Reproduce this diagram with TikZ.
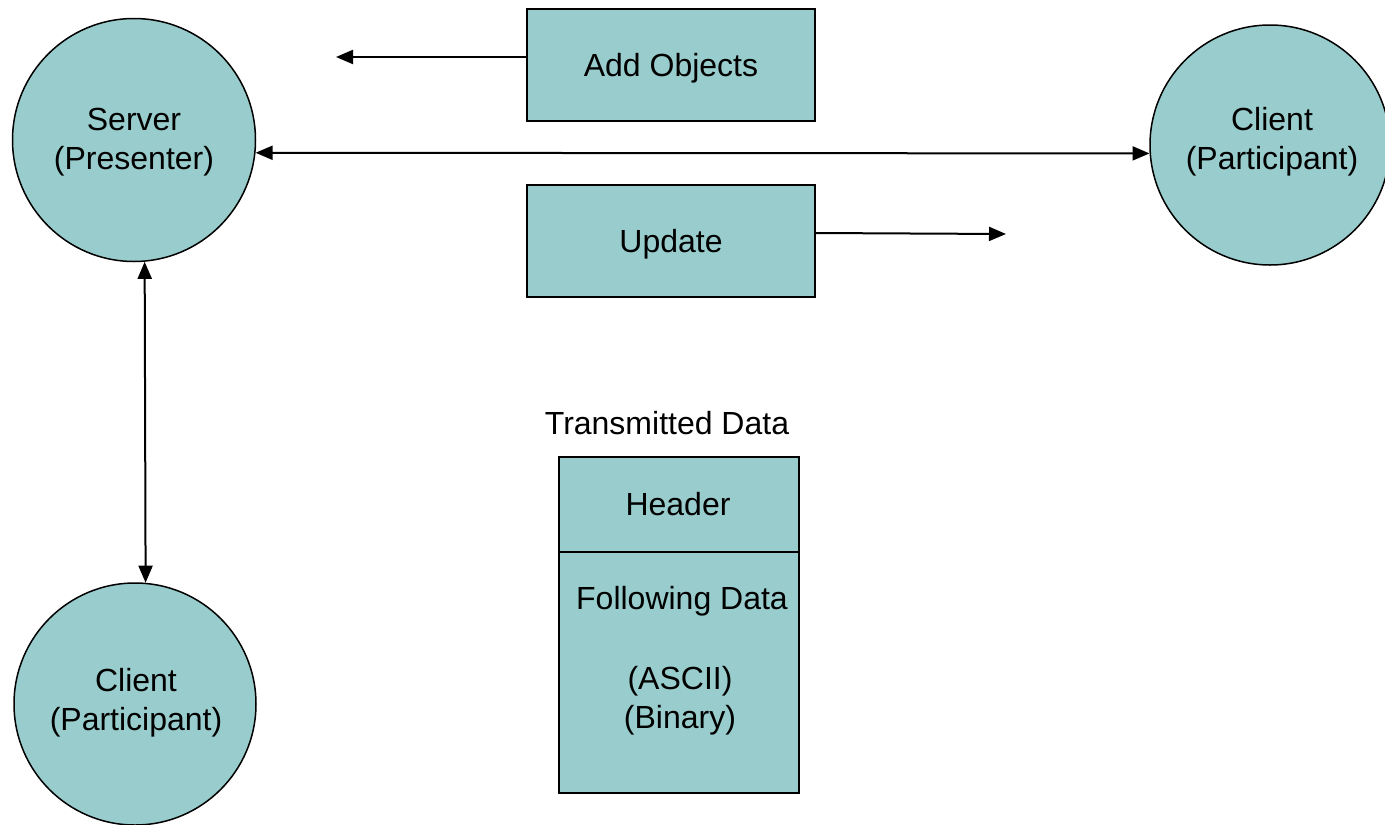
\documentclass[tikz,border=0pt]{standalone}
\usepackage{fontspec}
\setmainfont{Liberation Sans}
\usetikzlibrary{arrows.meta}
\definecolor{fillteal}{HTML}{99CCCC}
\tikzset{
  every node/.style={font=\fontsize{32}{39}\selectfont, inner sep=0pt, align=center},
  station/.style={circle, draw=black, line width=1.5pt, fill=fillteal},
  msgbox/.style={rectangle, draw=black, line width=1.8pt, fill=fillteal,
                 minimum width=288pt, minimum height=112pt, text depth=0pt},
  databox/.style={rectangle, draw=black, line width=1.8pt, fill=fillteal,
                  minimum width=240pt},
  flow/.style={line width=2pt, -{Triangle[length=17pt,width=14pt]}},
  twoway/.style={line width=2pt, {Triangle[length=17pt,width=14pt]}-{Triangle[length=17pt,width=14pt]}}
}
\begin{document}
\begin{tikzpicture}[x=1pt, y=-1pt]
  \useasboundingbox (0,0) rectangle (1385,825);

  % stations
  \node[station, minimum size=243pt] (server) at (134,140) {};
  \node (serverText) at (134,142) {Server\\(Presenter)};
  \node[station, minimum size=240pt] (clientR) at (1270,145) {};
  \node (clientRText) at (1272,142) {Client\\(Participant)};
  \node[station, minimum size=242pt] (clientB) at (135,704) {};
  \node (clientBText) at (136,702.5) {Client\\(Participant)};

  % messages
  \node[msgbox] (add) at (671,65) {Add Objects};
  \node[msgbox] (update) at (671,241) {Update};
  \coordinate (addEnd) at (336,57);
  \coordinate (updEnd) at (1006,234);
  \draw[flow] (add.west |- addEnd) -- (addEnd);
  \draw[flow] (update.east |- 0,233) -- (updEnd);

  % links between stations
  \draw[twoway] (server.-6) -- (clientR.184);
  \draw[twoway] (server.-85.3) -- (clientB.85.7);

  % transmitted data layout
  \node (title) at (667,423) {Transmitted Data};
  \node[databox, minimum height=95pt] (header) at (679,504.5) {};
  \node[databox, minimum height=241pt] (payload) at (679,672.5) {};
  \node (headerText) at (678,504) {Header};
  \node (follow) at (682,601) {Following Data};
  \node (formats) at (680,701) {(ASCII)\\(Binary)};
\end{tikzpicture}
\end{document}
